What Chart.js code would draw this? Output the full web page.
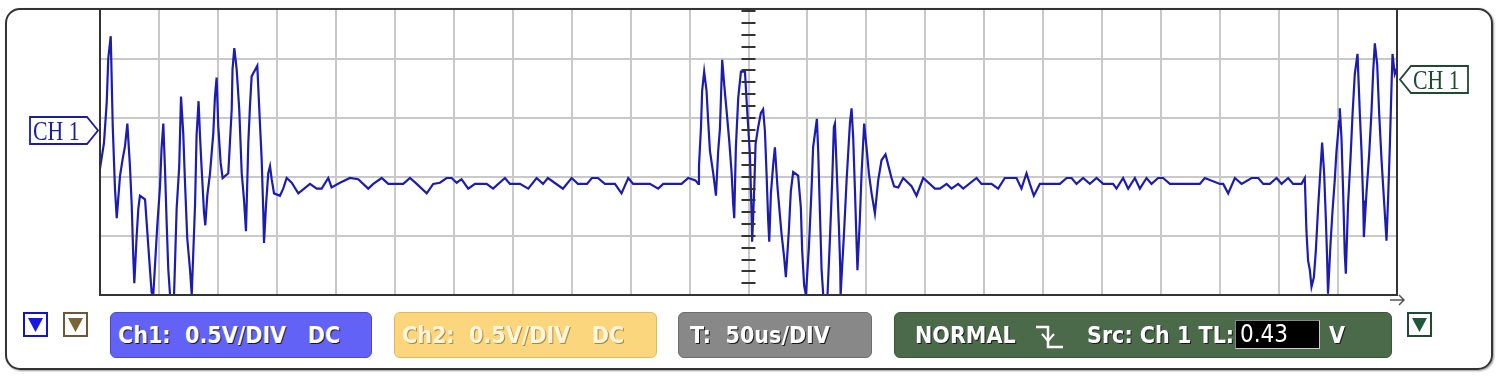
<!DOCTYPE html>
<html>
<head>
<meta charset="utf-8">
<script src="https://cdn.jsdelivr.net/npm/chart.js@4.4.1/dist/chart.umd.min.js"></script>
<style>
  html, body { margin: 0; padding: 0; background: #fff; }
  #wrap { position: relative; width: 1500px; height: 378px; overflow: hidden; }
  #scope { position: absolute; left: 0; top: 0; }
  #frame { position: absolute; left: 5px; top: 8px; width: 1484px; height: 358px;
           border: 2.5px solid #333; border-radius: 15px; box-shadow: 1px 1px 2px #999; }
  .box { position: absolute; top: 312px; height: 46px; border-radius: 6px;
         font: bold 23px/44px 'Liberation Sans Narrow', 'DejaVu Sans Condensed', sans-serif;
         color: #fff; text-shadow: 1px 1px 0 #1a1a1a; white-space: pre; box-sizing: border-box; }
  #ch1box { left: 110px; width: 262px; background: #6262f6; padding-left: 7px; border: 1px solid #4a4ad0; }
  #ch2box { left: 394px; width: 263px; background: #fbd67c; padding-left: 7px; border: 1px solid #e0b860;
            color: #fff6dc; text-shadow: 1px 1px 0 #a88a48; }
  #tbox { left: 678px; width: 194px; background: #888; padding-left: 11px; border: 1px solid #6e6e6e; }
  #trig { left: 894px; width: 498px; background: #4a6a49; border: 1px solid #3a553a; }
  #trig span { position: absolute; top: 0; }
  #tl { position: absolute; left: 340px; top: 7px; width: 85px; height: 29px; background: #000;
        border: 1px solid #888; border-right-color: #ccc; border-bottom-color: #ccc;
        font: 24px/27px 'Liberation Sans Narrow', 'DejaVu Sans Condensed', sans-serif;
        color: #fff; text-shadow: none; padding-left: 4px; box-sizing: border-box; }
  .btn { position: absolute; top: 312px; width: 25px; height: 25px; box-sizing: border-box; background: #fff; }
  .mark { position: absolute; }
  .mark span { position: absolute; top: 0; font: 28px/29px 'Liberation Serif', serif; white-space: nowrap;
               transform: scaleX(0.78); transform-origin: left center; }
</style>
</head>
<body>
<div id="wrap">
  <canvas id="scope" width="1500" height="378"></canvas>
  <div id="frame"></div>

  <div class="mark" style="left:29px; top:116px; width:72px; height:30px;">
    <svg width="72" height="30"><polygon points="1,1 58,1 69,14.5 58,28 1,28" fill="#fff" stroke="#1c1ca0" stroke-width="1.8"/></svg>
    <span style="left:4px; color:#1c1ca0;">CH 1</span>
  </div>
  <div class="mark" style="left:1399px; top:65px; width:72px; height:30px;">
    <svg width="72" height="30"><polygon points="12,1 69,1 69,28 12,28 1,14.5" fill="#fff" stroke="#1d4a30" stroke-width="1.8"/></svg>
    <span style="left:14px; color:#1d4a30;">CH 1</span>
  </div>

  <svg style="position:absolute; left:1388px; top:293px;" width="20" height="14">
    <path d="M2,7 H16 M11,2 L16,7 L11,12" fill="none" stroke="#555" stroke-width="1.5"/>
  </svg>

  <div class="btn" style="left:23px; border:2px solid #1414c0;">
    <svg width="21" height="21"><polygon points="3,4 18,4 10.5,18" fill="#1818e0"/></svg>
  </div>
  <div class="btn" style="left:63px; border:2px solid #6a5836;">
    <svg width="21" height="21"><polygon points="3,4 18,4 10.5,18" fill="#7a6535"/></svg>
  </div>
  <div class="btn" style="left:1407px; border:2px solid #1d4a30;">
    <svg width="21" height="21"><polygon points="3,4 18,4 10.5,18" fill="#1e5a3a"/></svg>
  </div>

  <div class="box" id="ch1box">Ch1:  0.5V/DIV   DC</div>
  <div class="box" id="ch2box">Ch2:  0.5V/DIV   DC</div>
  <div class="box" id="tbox">T:  50us/DIV</div>
  <div class="box" id="trig">
    <span style="left:20px;">NORMAL</span>
    <svg style="position:absolute; left:140px; top:12px;" width="32" height="26">
      <path d="M1,2 H13 V22 H28" fill="none" stroke="#fff" stroke-width="2.5"/>
      <path d="M7,9 L13,16 L19,9" fill="none" stroke="#fff" stroke-width="2"/>
    </svg>
    <span style="left:192px;">Src: Ch 1 TL:</span>
    <div id="tl">0.43</div>
    <span style="left:434px;">V</span>
  </div>
</div>

<script>
// ===============================
// Trace data (CH1)
// time in us (50us/DIV), volts (0.5V/DIV)
// ===============================
const timeUs = [
  0, 3.4, 5.7, 7.0, 9.1, 10.8, 12.7, 14.2, 17.0, 19.2, 21.2, 23.2, 25.4, 26.9, 28.2, 29.1,
  31.0, 32.5, 33.9, 38.2, 39.6, 41.7, 43.8, 45.2, 48.6, 50.9, 52.2, 53.7, 55.1, 56.6, 57.9, 59.4,
  62.8, 65.0, 67.2, 68.7, 70.6, 72.1, 74.0, 76.3, 77.8, 80.6, 81.9, 83.6, 84.8, 86.2, 88.2, 89.3,
  91.0, 93.3, 96.1, 97.5, 98.9, 100.3, 102.3, 104.0, 108.8, 110.2, 111.7, 112.4, 113.9, 115.9, 118.1, 120.2,
  122.1, 123.8, 125.8, 127.2, 128.6, 133.4, 135.1, 137.1, 138.5, 139.1, 140.8, 142.7, 144.2, 145.6, 147.6, 152.6,
  155.4,
  158.3, 162.6, 168.2, 178.1, 183.8, 188.0, 193.6, 196.4, 203.5, 212.0, 219.0, 227.5, 231.8, 238.9, 244.5, 257.2,
  262.9, 268.6, 277.1, 282.6, 288.3, 294.0, 298.2, 302.5, 306.6, 312.3, 318.0, 327.9, 333.4, 343.4, 347.7, 356.2,
  363.2, 370.3, 375.7, 379.9, 392.6, 400.0, 405.3, 413.0, 417.2, 422.3, 428.2, 436.7, 442.3, 448.0, 452.2, 466.4,
  473.4, 477.7, 493.2, 498.9, 505.0,
  507.4, 508.0, 509.7, 510.7, 512.4, 514.4, 515.8, 517.3, 520.1, 522.4, 524.3, 525.8, 527.7, 529.4, 531.4, 533.7,
  535.7, 537.0, 537.9, 539.3, 541.3, 543.6, 547.0, 548.4, 551.2, 552.6, 553.1, 554.9, 556.0, 558.2, 560.5, 562.4,
  563.9, 565.3, 566.7, 567.6, 569.0, 571.0, 572.4, 574.6, 578.0, 580.2, 581.7, 584.2, 585.9, 587.9, 592.1, 594.4,
  595.5, 597.2, 598.7, 601.2, 603.4, 604.8, 608.0, 609.1, 610.6, 612.0, 613.4, 617.0, 619.0, 621.0, 622.4, 623.3,
  624.6, 626.7, 627.8, 628.1, 631.1, 633.2, 636.0, 637.4, 638.8, 640.2, 641.7, 642.4, 644.4, 645.9, 648.1, 650.1,
  652.1, 654.4, 657.2, 660.0, 662.8, 666.2, 669.0, 671.3, 673.5,
  677.0, 681.2, 688.3, 692.5, 698.2, 708.1, 712.3, 718.0, 722.2, 727.8, 732.1, 743.4, 747.6, 756.1, 761.7, 767.4,
  777.3, 781.5, 785.8, 788.6, 792.0, 797.1, 814.1, 819.8, 824.0, 828.2, 833.8, 839.5, 845.2, 850.8, 859.2, 862.1,
  867.7, 872.0, 877.7, 881.9, 887.6, 891.8, 897.4, 901.6, 907.4, 932.8, 937.0, 949.8, 952.6, 956.8, 962.5, 968.2,
  976.7, 982.3, 986.6, 992.2, 997.9, 1002.1, 1007.7, 1011.9, 1019.0, 1021.8,
  1023.2, 1024.6, 1026.1, 1027.5, 1029.5, 1031.2, 1033.1, 1035.2, 1036.5, 1038.2, 1039.6, 1040.7, 1041.5, 1043.6, 1045.3, 1047.2,
  1048.7, 1050.9, 1051.5, 1052.9, 1054.3, 1055.7, 1056.6, 1058.5, 1060.6, 1062.3, 1064.2, 1066.5, 1068.5, 1069.9, 1071.3, 1071.9,
  1074.2, 1076.4, 1078.4, 1079.8, 1081.2, 1083.2, 1084.9, 1086.9, 1088.8, 1091.1, 1092.5, 1093.9, 1095.3, 1096.2, 1098.1, 1100
];

const ch1Volts = [
  0.07, 0.29, 0.63, 1.00, 1.19, 0.43, -0.10, -0.35, 0.01, 0.15, 0.26, 0.45, 0.09, -0.24, -0.67, -0.90,
  -0.52, -0.27, -0.16, -0.19, -0.39, -0.69, -0.98, -1.00, -0.41, -0.08, 0.24, 0.45, 0.07, -0.41, -0.78, -1.00,
  -1.00, -0.27, 0.09, 0.68, 0.37, -0.05, -0.52, -0.78, -1.00, -0.24, 0.35, 0.64, 0.35, 0.07, -0.30, -0.41,
  -0.16, 0.03, 0.37, 0.68, 0.84, 0.43, 0.12, -0.01, 0.03, 0.29, 0.57, 0.91, 1.09, 0.91, 0.57, 0.03,
  -0.19, -0.46, 0.29, 0.60, 0.85, 0.94, 0.57, 0.15, -0.30, -0.56, -0.24, 0.03, 0.09, -0.02, -0.14, -0.16,
  -0.10,
  -0.01, -0.05, -0.14, -0.06, -0.10, -0.10, -0.01, -0.09, -0.05, -0.01, -0.02, -0.10, -0.06, -0.01, -0.06, -0.06,
  -0.01, -0.06, -0.14, -0.06, -0.05, -0.01, -0.01, -0.05, -0.02, -0.10, -0.06, -0.06, -0.10, -0.01, -0.06, -0.06,
  -0.10, -0.01, -0.06, -0.01, -0.10, -0.01, -0.06, -0.06, -0.01, -0.01, -0.06, -0.06, -0.14, -0.01, -0.06, -0.06,
  -0.10, -0.06, -0.06, -0.01, -0.03,
  -0.06, 0.09, 0.42, 0.73, 0.89, 0.73, 0.47, 0.22, 0.03, -0.16, 0.22, 0.41, 0.99, 0.78, 0.56, 0.30,
  0.03, -0.23, -0.35, 0.25, 0.67, 0.89, 0.89, 0.64, 0.19, -0.31, -0.55, -0.09, 0.28, 0.42, 0.54, 0.57,
  0.39, 0.03, -0.37, -0.55, -0.14, 0.11, 0.25, -0.09, -0.48, -0.68, -0.85, -0.46, -0.12, 0.04, 0.01, -0.26,
  -0.62, -0.92, -1.00, -0.60, -0.12, 0.25, 0.49, 0.22, -0.31, -0.79, -1.00, -1.00, -0.54, -0.03, 0.42, 0.45,
  0.11, -0.43, -0.77, -1.00, -0.46, -0.03, 0.45, 0.58, 0.33, -0.09, -0.57, -0.79, -0.37, 0.03, 0.45, 0.25,
  0.03, -0.14, -0.31, -0.03, 0.14, 0.19, 0.08, -0.01, -0.08,
  -0.09, -0.01, -0.08, -0.16, -0.01, -0.10, -0.10, -0.06, -0.10, -0.06, -0.10, -0.01, -0.06, -0.06, -0.10, -0.01,
  -0.01, -0.10, 0.03, -0.06, -0.16, -0.06, -0.06, -0.01, -0.01, -0.06, -0.01, -0.06, -0.01, -0.06, -0.06, -0.10,
  -0.01, -0.10, -0.01, -0.10, -0.01, -0.06, -0.01, -0.01, -0.06, -0.06, -0.01, -0.06, -0.06, -0.14, -0.01, -0.06,
  -0.01, -0.01, -0.06, -0.06, -0.01, -0.06, -0.01, -0.06, -0.06, -0.01,
  -0.46, -0.71, -0.79, -0.93, -0.85, -0.62, -0.26, 0.08, 0.29, 0.03, -0.34, -0.68, -0.99, -0.57, -0.29, -0.03,
  0.22, 0.47, 0.58, 0.33, -0.12, -0.65, -0.82, -0.23, 0.16, 0.53, 0.87, 1.04, 0.53, 0.22, -0.20, -0.51,
  -0.12, 0.19, 0.56, 0.89, 1.13, 0.95, 0.53, 0.14, -0.17, -0.54, -0.17, 0.25, 0.75, 1.04, 0.87, 0.92
];

// screen window: 22 divisions of 50us, visible volts from bottom line up to the bezel
const T_MIN = 0, T_MAX = 1100, T_DIV = 50;
const V_MIN = -1.0, V_MAX = 1.42, V_DIV = 0.5, V_SUBDIV = 0.1;
const T_CENTER = 550;

// ===============================
// Border + center graticule ticks
// ===============================
const graticule = {
    id: 'graticule',
    afterDatasetsDraw(chart) {
        const { ctx, chartArea: a, scales } = chart;
        ctx.save();

        // center axis ticks
        const cx = scales.x.getPixelForValue(T_CENTER);
        ctx.fillStyle = '#333';
        for (let v = V_MIN + V_SUBDIV; v < V_MAX - 0.001; v += V_SUBDIV) {
            const y = Math.round(scales.y.getPixelForValue(v));
            ctx.fillRect(cx - 7, y - 1, 14, 2);
        }

        // plot borders (left, bottom, right)
        ctx.strokeStyle = '#333';
        ctx.lineWidth = 2;
        ctx.beginPath();
        ctx.moveTo(a.left, a.top);
        ctx.lineTo(a.left, a.bottom);
        ctx.lineTo(a.right, a.bottom);
        ctx.lineTo(a.right, a.top);
        ctx.stroke();
        ctx.restore();
    }
};

const ctx = document.getElementById('scope').getContext('2d');

new Chart(ctx, {
    type: 'line',
    data: {
        datasets: [{
            label: 'CH1',
            data: timeUs.map((t, i) => ({ x: t, y: ch1Volts[i] })),
            borderColor: '#1c1cb0',
            borderWidth: 2.2,
            pointRadius: 0,
            tension: 0,
            fill: false
        }]
    },
    options: {
        responsive: false,
        animation: false,
        devicePixelRatio: 1,
        layout: { padding: { left: 100, right: 103, top: 9, bottom: 83 } },
        plugins: { legend: { display: false }, tooltip: { enabled: false } },
        scales: {
            x: {
                type: 'linear', min: T_MIN, max: T_MAX,
                ticks: { display: false, stepSize: T_DIV, maxTicksLimit: 40 },
                grid: { color: '#c9c9c9', lineWidth: 2, drawTicks: false },
                border: { display: false }
            },
            y: {
                type: 'linear', min: V_MIN, max: V_MAX,
                ticks: { display: false, stepSize: V_DIV, includeBounds: false },
                grid: { color: '#c9c9c9', lineWidth: 2, drawTicks: false },
                border: { display: false }
            }
        }
    },
    plugins: [graticule]
});
</script>
</body>
</html>
